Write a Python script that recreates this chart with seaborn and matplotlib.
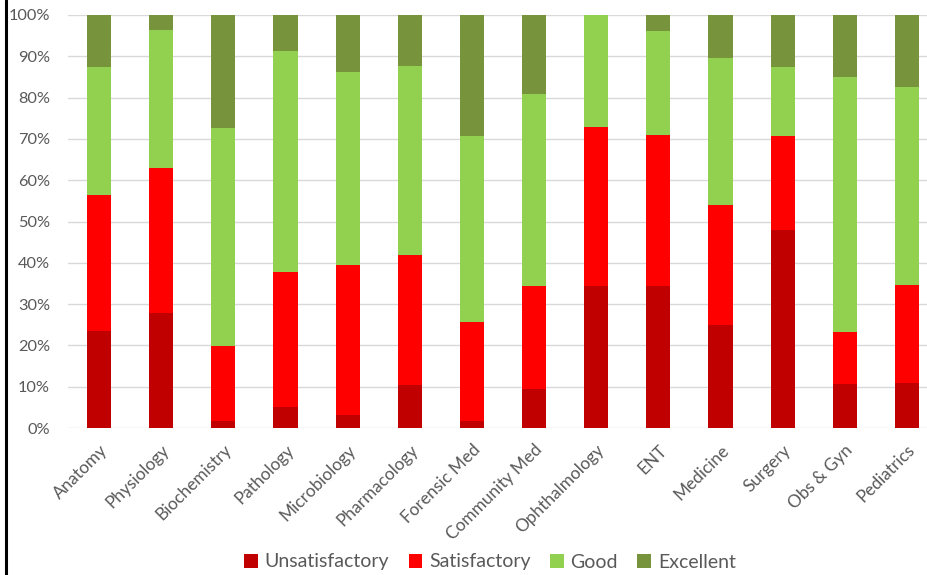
import matplotlib
matplotlib.use("Agg")
import matplotlib.pyplot as plt
from matplotlib.lines import Line2D
from matplotlib.patches import Patch
from matplotlib.ticker import FuncFormatter, MultipleLocator
import numpy as np
import seaborn as sns

subjects = ["Anatomy", "Physiology", "Biochemistry", "Pathology", "Microbiology",
            "Pharmacology", "Forensic Med", "Community Med", "Ophthalmology", "ENT",
            "Medicine", "Surgery", "Obs & Gyn", "Pediatrics"]
unsatisfactory = [23.6, 27.8, 1.7, 5.0, 3.2, 10.3, 1.6, 9.4, 34.5, 34.5, 24.9, 47.9, 10.6, 10.8]
satisfactory = [32.7, 35.1, 18.2, 32.8, 36.3, 31.6, 24.1, 25.1, 38.5, 36.5, 29.2, 22.9, 12.7, 23.9]
good = [31.0, 33.4, 52.8, 53.6, 46.7, 45.8, 44.9, 46.3, 27.0, 25.1, 35.5, 16.7, 61.8, 47.9]
excellent = [12.7, 3.7, 27.3, 8.6, 13.8, 12.3, 29.4, 19.2, 0.0, 3.9, 10.4, 12.5, 14.9, 17.4]

series_names = ["Unsatisfactory", "Satisfactory", "Good", "Excellent"]
series_colors = ["#C00000", "#FF0000", "#92D050", "#77933C"]

sns.set_theme(style="white")
plt.rcParams["font.family"] = ["Lato", "DejaVu Sans"]

fig = plt.figure(figsize=(9.28, 5.75), dpi=100)
ax = fig.add_axes([68 / 928, 147 / 575, 870 / 928, 413 / 575])

# stacked 100% bars: draw cumulative totals from the top layer down
layers = np.array([unsatisfactory, satisfactory, good, excellent])
cum = np.cumsum(layers, axis=0)
for i in range(3, -1, -1):
    sns.barplot(x=subjects, y=cum[i], color=series_colors[i], width=0.39,
                saturation=1, ax=ax, zorder=2, edgecolor="none")

ax.set_ylim(0, 100)
ax.set_xlim(-0.5, len(subjects) - 0.5)
ax.yaxis.set_major_locator(MultipleLocator(10))
ax.yaxis.set_major_formatter(FuncFormatter(lambda v, p: f"{v:.0f}%"))
ax.grid(axis="y", color="#D9D9D9", linewidth=1, zorder=0)
ax.set_axisbelow(True)
for s in ax.spines.values():
    s.set_visible(False)
ax.tick_params(axis="both", length=0, colors="#595959")
ax.tick_params(axis="y", pad=13, labelsize=11.8)
ax.tick_params(axis="x", pad=10, labelsize=12.4)
ax.set_xlabel("")
ax.set_ylabel("")
for lbl in ax.get_xticklabels():
    lbl.set_rotation(45)
    lbl.set_ha("right")
    lbl.set_rotation_mode("anchor")

handles = [Patch(facecolor=c, edgecolor="none") for c in series_colors]
fig.legend(handles, series_names, loc="center", bbox_to_anchor=(490 / 928, 1 - 562 / 575),
           ncol=4, frameon=False, fontsize=14, handlelength=0.7, handleheight=0.7,
           handletextpad=0.35, columnspacing=1.0, labelcolor="#595959")

fig.add_artist(Line2D([6 / 928, 6 / 928], [0, 1], color="black", linewidth=2.2))

fig.savefig("out.png", dpi=100)
